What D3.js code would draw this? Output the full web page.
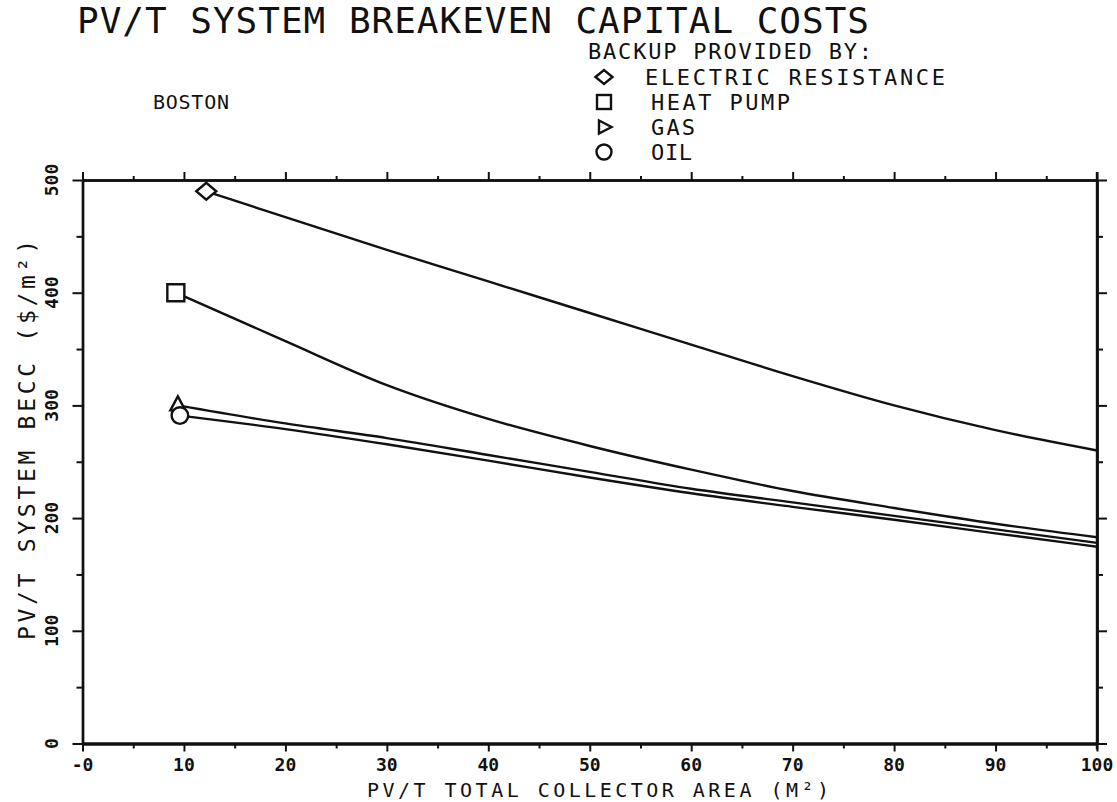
<!DOCTYPE html>
<html>
<head>
<meta charset="utf-8">
<script src="https://cdn.jsdelivr.net/npm/d3@7"></script>
<style>
  html, body { margin: 0; padding: 0; background: #fff; }
  svg { display: block; }
  text { font-family: "DejaVu Sans Mono", "Liberation Mono", monospace; fill: #111; }
</style>
</head>
<body>
<svg id="chart" width="1117" height="802"></svg>
<script>
// Axis ticks
const areaTicks = [0, 10, 20, 30, 40, 50, 60, 70, 80, 90, 100];
const areaMinorTicks = [5, 15, 25, 35, 45, 55, 65, 75, 85, 95];
const beccTicks = [0, 100, 200, 300, 400, 500];
const beccMinorTicks = [50, 150, 250, 350, 450];

// Breakeven capital cost ($/m2) vs total collector area (m2), by backup type
const elecArea = [12.2, 20, 30, 40, 50, 60, 70, 80, 90, 100];
const elecBecc = [490, 467, 438, 410, 382, 354, 326, 300, 278, 260];

const hpArea = [9.2, 20, 30, 40, 50, 60, 70, 80, 90, 100];
const hpBecc = [400, 357, 318, 288, 264, 243, 224, 209, 195, 183];

const gasArea = [9.4, 20, 30, 40, 50, 60, 70, 80, 90, 100];
const gasBecc = [300, 284, 271, 256, 241, 226, 214, 202, 190, 178];

const oilArea = [9.6, 20, 30, 40, 50, 60, 70, 80, 90, 100];
const oilBecc = [291, 279, 265.5, 251, 236, 222, 210, 198.5, 186.5, 174.6];

const seriesNames = ["ELECTRIC RESISTANCE", "HEAT PUMP", "GAS", "OIL"];

const svg = d3.select("#chart");
const x = d3.scaleLinear().domain([0, 100]).range([82.5, 1097]);
const y = d3.scaleLinear().domain([0, 500]).range([743.5, 180]);

const ink = "#111";

// --- frame and ticks ---
function styleAxis(g, width) {
  g.select(".domain").attr("stroke", ink).attr("stroke-width", width);
  g.selectAll(".tick line").attr("stroke", ink).attr("stroke-width", 2);
  g.selectAll(".tick text").remove();
}

// bottom
svg.append("g").attr("transform", `translate(0,${y(0)})`)
  .call(d3.axisBottom(x).tickValues(areaTicks).tickSize(8).tickSizeOuter(0))
  .call(g => styleAxis(g, 3.2));
svg.append("g").attr("transform", `translate(0,${y(0)})`)
  .call(d3.axisBottom(x).tickValues(areaMinorTicks).tickSize(5).tickSizeOuter(0))
  .call(g => styleAxis(g, 3.2));
// top
svg.append("g").attr("transform", `translate(0,${y(500)})`)
  .call(d3.axisTop(x).tickValues(areaTicks).tickSize(8).tickSizeOuter(0))
  .call(g => styleAxis(g, 2.4));
svg.append("g").attr("transform", `translate(0,${y(500)})`)
  .call(d3.axisTop(x).tickValues(areaMinorTicks).tickSize(4).tickSizeOuter(0))
  .call(g => styleAxis(g, 2.4));
// left
svg.append("g").attr("transform", `translate(${x(0)},0)`)
  .call(d3.axisLeft(y).tickValues(beccTicks).tickSize(10).tickSizeOuter(0))
  .call(g => styleAxis(g, 2.4));
svg.append("g").attr("transform", `translate(${x(0)},0)`)
  .call(d3.axisLeft(y).tickValues(beccMinorTicks).tickSize(6).tickSizeOuter(0))
  .call(g => styleAxis(g, 2.4));
// right
svg.append("g").attr("transform", `translate(${x(100)},0)`)
  .call(d3.axisRight(y).tickValues(beccTicks).tickSize(10).tickSizeOuter(0))
  .call(g => styleAxis(g, 2.4));
svg.append("g").attr("transform", `translate(${x(100)},0)`)
  .call(d3.axisRight(y).tickValues(beccMinorTicks).tickSize(6).tickSizeOuter(0))
  .call(g => styleAxis(g, 2.4));
// right edge runs a little past the top frame line
svg.append("line")
  .attr("x1", x(100)).attr("x2", x(100))
  .attr("y1", y(500) - 8).attr("y2", y(0) + 6)
  .attr("stroke", ink).attr("stroke-width", 2.4);

// tick labels
svg.append("g").selectAll("text").data(areaTicks).join("text")
  .attr("x", d => x(d))
  .attr("y", 771)
  .attr("text-anchor", "middle")
  .attr("font-size", 18)
  .attr("font-weight", "bold")
  .text(d => d === 0 ? "-0" : d);

svg.append("g").selectAll("text").data(beccTicks).join("text")
  .attr("transform", d => `translate(58,${y(d)}) rotate(-90)`)
  .attr("text-anchor", "middle")
  .attr("font-size", 18)
  .attr("font-weight", "bold")
  .text(d => d);

// --- titles ---
svg.append("text")
  .attr("x", 77).attr("y", 33)
  .attr("font-size", 36)
  .attr("textLength", 792).attr("lengthAdjust", "spacing")
  .text("PV/T SYSTEM BREAKEVEN CAPITAL COSTS");

svg.append("text")
  .attr("x", 367).attr("y", 797)
  .attr("font-size", 20)
  .attr("textLength", 462).attr("lengthAdjust", "spacing")
  .text("PV/T TOTAL COLLECTOR AREA (M²)");

svg.append("text")
  .attr("transform", "translate(35,640) rotate(-90)")
  .attr("font-size", 23)
  .attr("textLength", 400).attr("lengthAdjust", "spacing")
  .text("PV/T SYSTEM BECC  ($/m²)");

svg.append("text")
  .attr("x", 153).attr("y", 109)
  .attr("font-size", 20)
  .attr("textLength", 76).attr("lengthAdjust", "spacing")
  .text("BOSTON");

// --- legend ---
svg.append("text")
  .attr("x", 588).attr("y", 59)
  .attr("font-size", 22)
  .attr("textLength", 284).attr("lengthAdjust", "spacing")
  .text("BACKUP PROVIDED BY:");

const legendRows = [
  { name: seriesNames[0], y: 77, x: 645, len: 300 },
  { name: seriesNames[1], y: 102, x: 651, len: 139 },
  { name: seriesNames[2], y: 127, x: 651, len: 44 },
  { name: seriesNames[3], y: 152, x: 651, len: 41 }
];
const leg = svg.append("g");
leg.selectAll("text").data(legendRows).join("text")
  .attr("x", d => d.x).attr("y", d => d.y + 8)
  .attr("font-size", 22)
  .attr("textLength", d => d.len).attr("lengthAdjust", "spacing")
  .text(d => d.name);

const mk = { fill: "#fff", stroke: ink, sw: 2.4 };
// diamond
leg.append("path")
  .attr("d", "M-8.5,0 L0,-7 L8.5,0 L0,7 Z")
  .attr("transform", `translate(604,${legendRows[0].y})`)
  .attr("fill", mk.fill).attr("stroke", ink).attr("stroke-width", mk.sw);
// square
leg.append("rect")
  .attr("x", 597).attr("y", legendRows[1].y - 7).attr("width", 14).attr("height", 14)
  .attr("fill", mk.fill).attr("stroke", ink).attr("stroke-width", mk.sw);
// right-pointing triangle
leg.append("path")
  .attr("d", "M-5,-6.5 L7.5,0 L-5,6.5 Z")
  .attr("transform", `translate(604,${legendRows[2].y})`)
  .attr("fill", mk.fill).attr("stroke", ink).attr("stroke-width", mk.sw);
// circle
leg.append("circle")
  .attr("cx", 604).attr("cy", legendRows[3].y).attr("r", 7.5)
  .attr("fill", mk.fill).attr("stroke", ink).attr("stroke-width", mk.sw);

// --- curves ---
const line = d3.line()
  .x(d => x(d[0]))
  .y(d => y(d[1]))
  .curve(d3.curveMonotoneX);

const series = [
  { area: elecArea, becc: elecBecc, marker: "diamond" },
  { area: hpArea, becc: hpBecc, marker: "square" },
  { area: gasArea, becc: gasBecc, marker: "triangle" },
  { area: oilArea, becc: oilBecc, marker: "circle" }
];

const plot = svg.append("g");
series.forEach(s => {
  const pts = d3.zip(s.area, s.becc);
  plot.append("path")
    .attr("d", line(pts))
    .attr("fill", "none")
    .attr("stroke", ink)
    .attr("stroke-width", 2.4)
    .attr("stroke-linejoin", "round");
});

// start-point markers
series.forEach(s => {
  const cx = x(s.area[0]), cy = y(s.becc[0]);
  let m;
  if (s.marker === "diamond") {
    m = plot.append("path").attr("d", "M-10,0 L0,-8.5 L10,0 L0,8.5 Z");
  } else if (s.marker === "square") {
    m = plot.append("path").attr("d", "M-8.5,-8.5 H8.5 V8.5 H-8.5 Z");
  } else if (s.marker === "triangle") {
    m = plot.append("path").attr("d", "M0,-9 L7.5,5 L-7.5,5 Z");
  } else {
    m = plot.append("circle").attr("r", 8.3);
  }
  m.attr("transform", `translate(${cx},${cy})`)
    .attr("fill", "#fff").attr("stroke", ink).attr("stroke-width", 2.4);
});
</script>
</body>
</html>
